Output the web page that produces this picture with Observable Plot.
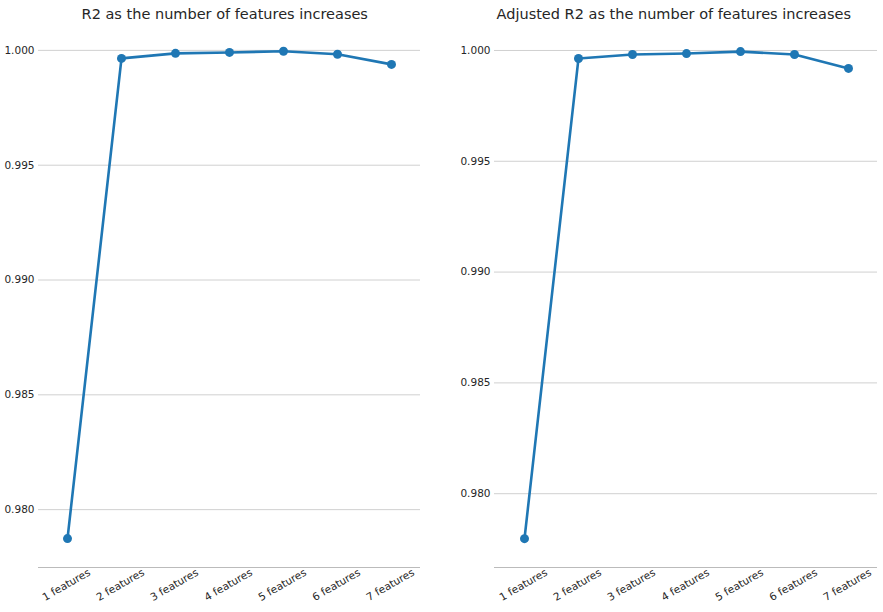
<!DOCTYPE html>
<html>
<head>
<meta charset="utf-8">
<script src="https://cdn.jsdelivr.net/npm/d3@7"></script>
<script src="https://cdn.jsdelivr.net/npm/@observablehq/plot@0.6"></script>
<style>
body { margin: 0; background: #fff; font-family: "DejaVu Sans", sans-serif; }
#wrap { display: flex; }
.panel { position: relative; }
.title { height: 28px; line-height: 28px; font-size: 14.5px; color: #262626; text-align: center; }
</style>
</head>
<body>
<div id="wrap"><div class="panel" id="p1"></div><div class="panel" id="p2"></div></div>
<script>
const features = ["1 features", "2 features", "3 features", "4 features", "5 features", "6 features", "7 features"]
const r2 = [0.97874, 0.99965, 0.99987, 0.99991, 0.99996, 0.99983, 0.99939]
const adjR2 = [0.97797, 0.99964, 0.99982, 0.99986, 0.99995, 0.99982, 0.99919]
const r2Ticks = [0.980, 0.985, 0.990, 0.995, 1.000]

function panel(id, title, values, domain, width, ml, mr) {
  const data = features.map((f, i) => ({f, v: values[i]}))
  d3.select(id).append("div").attr("class", "title").style("width", width + "px")
    .style("padding-left", (ml - mr) / 2 + "px").style("box-sizing", "border-box").text(title)
  const chart = Plot.plot({
    width, height: 584,
    marginTop: 12, marginBottom: 45, marginLeft: ml, marginRight: mr,
    style: {fontSize: 10.5, fontFamily: "DejaVu Sans, sans-serif", color: "#262626"},
    x: {type: "point", domain: features, padding: 0.5, label: null},
    y: {domain, label: null},
    marks: [
      Plot.gridY(r2Ticks, {stroke: "#d0d0d0", strokeOpacity: 1}),
      Plot.ruleY([domain[0]], {stroke: "#bbb"}),
      Plot.axisY(r2Ticks, {tickSize: 0, tickPadding: 4, tickFormat: d3.format(".3f")}),
      Plot.axisX({tickSize: 0, tickRotate: -30, tickPadding: 4, dx: 22}),
      Plot.line(data, {x: "f", y: "v", stroke: "#1f77b4", strokeWidth: 2.6}),
      Plot.dot(data, {x: "f", y: "v", fill: "#1f77b4", r: 4.5})
    ]
  })
  d3.select(id).append(() => chart)
}

panel("#p1", "R2 as the number of features increases", r2, [0.97748, 1.00043], 441, 38, 21)
panel("#p2", "Adjusted R2 as the number of features increases", adjR2, [0.97667, 1.00045], 442, 53, 6)
</script>
</body>
</html>
